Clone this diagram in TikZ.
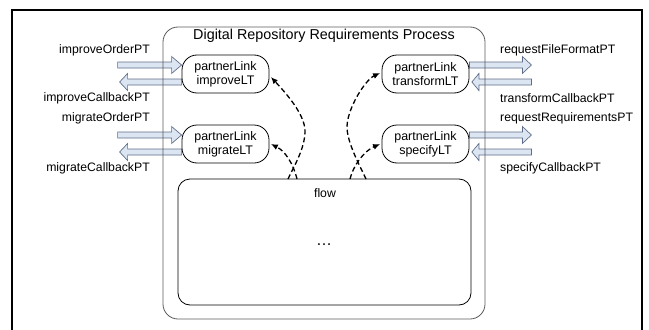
\documentclass[tikz,border=0pt]{standalone}
\usepackage{fontspec}
\setmainfont{Liberation Sans}
\usetikzlibrary{arrows.meta,calc}
\pgfdeclarelayer{bg}
\pgfsetlayers{bg,main}
\definecolor{blkfill}{RGB}{220,229,242}
\definecolor{blkline}{RGB}{95,110,135}
\definecolor{procline}{RGB}{90,90,90}
\begin{document}
\begin{tikzpicture}[x=1bp,y=1bp,
  txt/.style={font=\fontsize{12.3}{14}\selectfont, inner sep=0pt},
  plink/.style={draw, fill=white, rounded corners=15bp, minimum width=87bp,
    minimum height=38bp, align=center, inner sep=0pt, line width=0.8bp,
    font=\fontsize{12.5}{14}\selectfont},
  blk/.style={draw=blkline, fill=blkfill, line width=0.7bp, line join=miter},
  dep/.style={line width=1.3bp, dash pattern=on 5bp off 3bp,
    -{Latex[length=7bp,width=6bp]}}]
\useasboundingbox (0,0) rectangle (649,329);
% outer frame
\draw[line width=1.5bp] (12,-5) -- (12,319) -- (642,319) -- (642,-5);
% process container
\node[draw=procline, line width=0.8bp, rounded corners=15bp, minimum width=322bp,
  minimum height=292bp, inner sep=0pt] (proc) at (324,156) {};
\node[txt, font=\fontsize{14.4}{17}\selectfont] (title) at (324,293) {Digital Repository Requirements Process};
% flow
\node[draw, line width=0.8bp, rounded corners=12bp, minimum width=293bp,
  minimum height=126bp, inner sep=0pt] (flow) at (324.5,87) {};
\node[txt] (flowlbl) at (325,136) {flow};
\node[txt, font=\fontsize{16}{18}\selectfont] (dots) at (324,84) {\ldots};
% partner links
\node[plink] (iL) at (225.5,255) {partnerLink\\improveLT};
\node[plink] (mL) at (225.5,185) {partnerLink\\migrateLT};
\node[plink] (tL) at (425.5,255) {partnerLink\\transformLT};
\node[plink] (sL) at (425.5,185) {partnerLink\\specifyLT};
% labels
\node[txt, anchor=east] (l1) at (150,279) {improveOrderPT};
\node[txt, anchor=east] (l2) at (150,231) {improveCallbackPT};
\node[txt, anchor=east] (l3) at (150,211) {migrateOrderPT};
\node[txt, anchor=east] (l4) at (150,161) {migrateCallbackPT};
\node[txt, anchor=west] (r1) at (500,279) {requestFileFormatPT};
\node[txt, anchor=west] (r2) at (500,231) {transformCallbackPT};
\node[txt, anchor=west] (r3) at (500,211) {requestRequirementsPT};
\node[txt, anchor=west] (r4) at (500,161) {specifyCallbackPT};
% block arrows
\begin{pgfonlayer}{bg}
  % left: incoming (pointing right, tip at node)
  \draw[blk] ([yshift=9bp]iL.west) -- ++(-10,8.5) -- ++(0,-5.5) -- ++(-54,0)
    -- ++(0,-6) -- ++(54,0) -- ++(0,-5.5) -- cycle;
  \draw[blk] ([yshift=9bp]mL.west) -- ++(-10,8.5) -- ++(0,-5.5) -- ++(-54,0)
    -- ++(0,-6) -- ++(54,0) -- ++(0,-5.5) -- cycle;
  % left: outgoing (pointing left)
  \draw[blk] ([yshift=-8bp]iL.west) ++(0,3) -- ++(-54,0) -- ++(0,5.5) -- ++(-8,-8.5)
    -- ++(8,-8.5) -- ++(0,5.5) -- ++(54,0) -- cycle;
  \draw[blk] ([yshift=-8bp]mL.west) ++(0,3) -- ++(-54,0) -- ++(0,5.5) -- ++(-8,-8.5)
    -- ++(8,-8.5) -- ++(0,5.5) -- ++(54,0) -- cycle;
  % right: outgoing (pointing right)
  \draw[blk] ([yshift=9bp]tL.east) ++(0,3) -- ++(53,0) -- ++(0,5.5) -- ++(9,-8.5)
    -- ++(-9,-8.5) -- ++(0,5.5) -- ++(-53,0) -- cycle;
  \draw[blk] ([yshift=9bp]sL.east) ++(0,3) -- ++(53,0) -- ++(0,5.5) -- ++(9,-8.5)
    -- ++(-9,-8.5) -- ++(0,5.5) -- ++(-53,0) -- cycle;
  % right: incoming (pointing left, tip near node)
  \draw[blk] ([yshift=-8bp,xshift=2.5bp]tL.east) -- ++(7,8.5) -- ++(0,-5.5) -- ++(52.5,0)
    -- ++(0,-6) -- ++(-52.5,0) -- ++(0,-5.5) -- cycle;
  \draw[blk] ([yshift=-8bp,xshift=2.5bp]sL.east) -- ++(7,8.5) -- ++(0,-5.5) -- ++(52.5,0)
    -- ++(0,-6) -- ++(-52.5,0) -- ++(0,-5.5) -- cycle;
\end{pgfonlayer}
% dependency connectors
\coordinate (s1) at (288,150);
\coordinate (s2) at (297,150);
\coordinate (s3) at (366,150);
\coordinate (s4) at (350,150);
\coordinate (m1) at (305,198);
\coordinate (m3) at (347,202);
\draw[dep] (s1) .. controls (293,161) and (305,180) .. (m1)
  .. controls (305,216) and (282,240) .. ([shift={(1.5bp,-3bp)}]iL.east);
\draw[dep] (s2) .. controls (293,166) and (285,178) .. ([shift={(1.5bp,0bp)}]mL.east);
\draw[dep] (s3) .. controls (361,161) and (347,186) .. (m3)
  .. controls (347,220) and (365,249) .. ([shift={(-1.5bp,1bp)}]tL.west);
\draw[dep] (s4) .. controls (353,163) and (364,178) .. ([shift={(-1.5bp,0bp)}]sL.west);
\end{tikzpicture}
\end{document}
